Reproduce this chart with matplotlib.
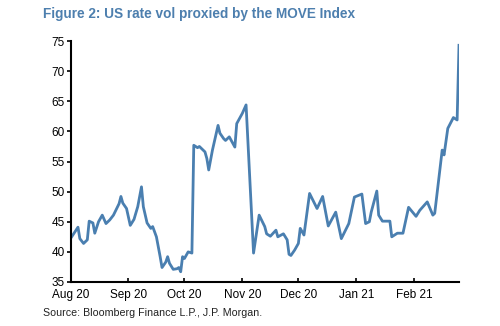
import pandas as pd
import matplotlib
matplotlib.use("Agg")
import matplotlib.pyplot as plt

plt.rcParams["font.family"] = ["Liberation Sans", "DejaVu Sans"]

# MOVE index, turning points
dates = [
    "2020-08-01", "2020-08-05", "2020-08-06", "2020-08-08", "2020-08-10", "2020-08-11",
    "2020-08-13", "2020-08-14", "2020-08-16", "2020-08-18", "2020-08-20", "2020-08-22",
    "2020-08-24", "2020-08-27", "2020-08-28", "2020-08-29", "2020-08-31", "2020-09-01",
    "2020-09-02", "2020-09-04", "2020-09-06", "2020-09-08", "2020-09-09", "2020-09-11",
    "2020-09-13", "2020-09-14", "2020-09-16", "2020-09-18", "2020-09-19", "2020-09-21",
    "2020-09-22", "2020-09-23", "2020-09-25", "2020-09-27", "2020-09-28", "2020-09-29",
    "2020-09-30", "2020-10-01", "2020-10-03", "2020-10-05", "2020-10-06", "2020-10-08",
    "2020-10-09", "2020-10-12", "2020-10-13", "2020-10-14", "2020-10-16", "2020-10-19",
    "2020-10-20", "2020-10-22", "2020-10-23", "2020-10-25", "2020-10-28", "2020-10-29",
    "2020-11-01", "2020-11-03", "2020-11-07", "2020-11-10", "2020-11-13", "2020-11-14",
    "2020-11-16", "2020-11-19", "2020-11-20", "2020-11-23", "2020-11-25", "2020-11-26",
    "2020-11-27", "2020-11-29", "2020-12-01", "2020-12-02", "2020-12-04", "2020-12-07",
    "2020-12-11", "2020-12-14", "2020-12-17", "2020-12-21", "2020-12-24", "2020-12-28",
    "2020-12-31", "2021-01-04", "2021-01-06", "2021-01-08", "2021-01-09", "2021-01-12",
    "2021-01-13", "2021-01-15", "2021-01-19", "2021-01-20", "2021-01-23", "2021-01-26",
    "2021-01-29", "2021-02-02", "2021-02-04", "2021-02-08", "2021-02-11", "2021-02-12",
    "2021-02-16", "2021-02-17", "2021-02-19", "2021-02-22", "2021-02-24", "2021-02-25",
]
move = [
    42.2, 44.1, 42.2, 41.4, 42.0, 45.1,
    44.8, 43.1, 45.0, 46.1, 44.7, 45.3,
    46.1, 48.0, 49.2, 48.1, 47.2, 45.8,
    44.4, 45.4, 47.5, 50.8, 47.5, 44.8,
    43.9, 44.2, 42.5, 39.2, 37.4, 38.3,
    39.2, 38.1, 37.1, 37.2, 37.4, 36.7,
    39.2, 38.9, 40.0, 39.8, 57.7, 57.3,
    57.5, 56.6, 55.5, 53.6, 56.9, 61.0,
    59.7, 58.8, 58.5, 59.1, 57.4, 61.3,
    63.0, 64.4, 39.8, 46.1, 44.2, 43.0,
    42.6, 43.6, 42.5, 43.0, 42.0, 39.6,
    39.4, 40.3, 41.4, 43.9, 42.8, 49.7,
    47.2, 49.2, 44.3, 46.6, 42.2, 44.7,
    49.1, 49.6, 44.7, 45.0, 46.6, 50.1,
    46.1, 45.1, 45.1, 42.5, 43.1, 43.1,
    47.4, 45.9, 46.9, 48.3, 46.1, 46.4,
    56.9, 56.1, 60.5, 62.3, 61.9, 74.3,
]
month_ticks = ["2020-08-01", "2020-09-01", "2020-10-01", "2020-11-01",
               "2020-12-01", "2021-01-01", "2021-02-01"]
month_labels = ["Aug 20", "Sep 20", "Oct 20", "Nov 20", "Dec 20", "Jan 21", "Feb 21"]
y_ticks = [35, 40, 45, 50, 55, 60, 65, 70, 75]

x = pd.to_datetime(dates)

fig = plt.figure(figsize=(5, 3.26), dpi=100)
ax = fig.add_axes([0.141, 0.135, 0.777, 0.739])

ax.plot(x, move, color="#4a7fb0", linewidth=2.0, solid_joinstyle="round")

ax.set_xlim(pd.Timestamp("2020-08-01"), pd.Timestamp("2021-02-25"))
ax.set_ylim(35, 75)
ax.set_yticks(y_ticks)
ax.set_xticks(pd.to_datetime(month_ticks))
ax.set_xticklabels(month_labels)

ax.spines[["top", "right"]].set_visible(False)
ax.spines[["left", "bottom"]].set_linewidth(1.5)
ax.tick_params(axis="y", direction="out", length=3, width=1.2, labelsize=8.5, pad=1)
ax.tick_params(axis="x", direction="in", length=3, width=1.2, labelsize=8.5, pad=5)

fig.text(0.086, 0.957, "Figure 2: US rate vol proxied by the MOVE Index",
         fontsize=9.8, fontweight="bold", color="#4d7fae", va="center", ha="left")
fig.text(0.086, 0.04, "Source: Bloomberg Finance L.P., J.P. Morgan.",
         fontsize=7.7, color="#222222", va="center", ha="left")

fig.savefig("out.png", dpi=100)
